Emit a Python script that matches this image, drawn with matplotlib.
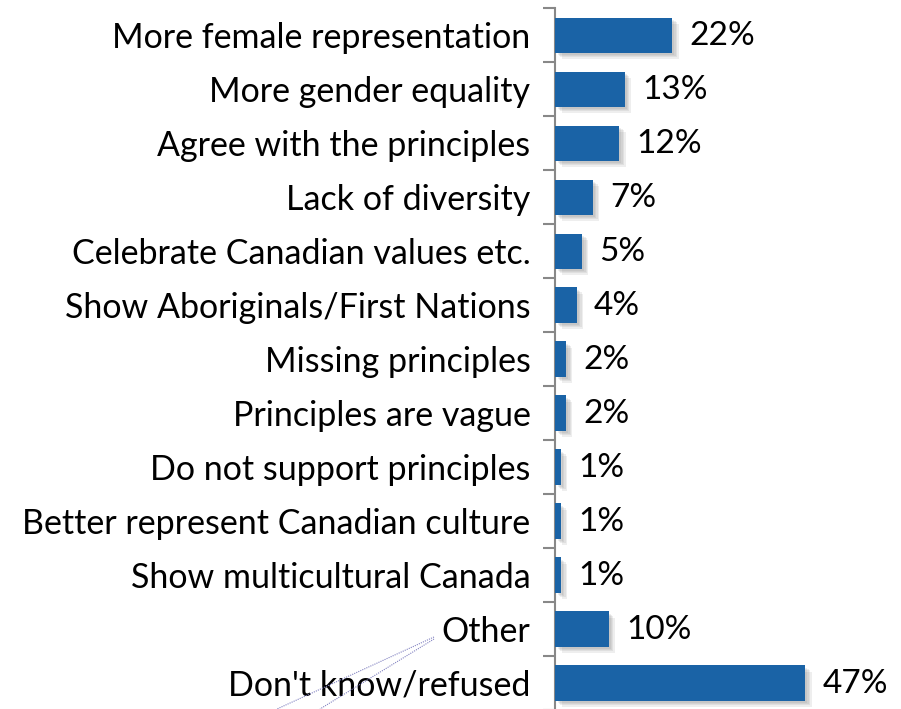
import matplotlib
matplotlib.use("Agg")
import matplotlib.pyplot as plt
import matplotlib.patheffects as pe
from matplotlib.lines import Line2D
import numpy as np

categories = ["More female representation", "More gender equality", "Agree with the principles",
              "Lack of diversity", "Celebrate Canadian values etc.", "Show Aboriginals/First Nations",
              "Missing principles", "Principles are vague", "Do not support principles",
              "Better represent Canadian culture", "Show multicultural Canada", "Other",
              "Don't know/refused"]
values = [22, 13, 12, 7, 5, 4, 2, 2, 1, 1, 1, 10, 47]
labels = ["22%", "13%", "12%", "7%", "5%", "4%", "2%", "2%", "1%", "1%", "1%", "10%", "47%"]

plt.rcParams['font.family'] = ['Lato', 'DejaVu Sans']

fig = plt.figure(figsize=(9.01, 7.09), dpi=100)
ax = fig.add_axes([0.6165, -0.0014, 0.3835, 0.99])
n = len(categories)
y = np.arange(n)
bars = ax.barh(y, values, height=0.65, color='#1a63a6', zorder=3)
shadow = [pe.SimplePatchShadow(offset=(o, -o), shadow_rgbFace='#777777', alpha=0.12) for o in (1.5, 2.5, 3.5, 4.5)]
for b in bars:
    b.set_path_effects(shadow + [pe.Normal()])
for yi, v, lab in zip(y, values, labels):
    ax.annotate(lab, (v, yi), xytext=(12.5, -1), textcoords='offset points', va='center', ha='left',
                fontsize=24, color='black')
ax.set_xlim(0, 65)
ax.set_ylim(n - 0.5, -0.5)
ax.set_yticks(y)
ax.set_yticklabels(categories, fontsize=24.5)
ax.set_yticks(np.arange(n + 1) - 0.5, minor=True)
ax.tick_params(axis='y', which='major', length=0, pad=18)
ax.tick_params(axis='y', which='minor', length=9, width=1.5, color='#888888', direction='out')
ax.set_xticks([])
for s in ['top', 'right', 'bottom']:
    ax.spines[s].set_visible(False)
ax.spines['left'].set_color('#888888')
ax.spines['left'].set_linewidth(1.5)
ax.patch.set_visible(False)

# decorative dotted strokes near "Other"
W, H = 901, 709
for (x0, y0, x1, y1) in [(434, 637, 277, 709), (434, 639, 320, 709)]:
    fig.add_artist(Line2D([x0 / W, x1 / W], [1 - y0 / H, 1 - y1 / H], transform=fig.transFigure,
                          color='#8080c0', lw=0.8, ls=(0, (1, 1))))

fig.savefig("out.png", dpi=100)
